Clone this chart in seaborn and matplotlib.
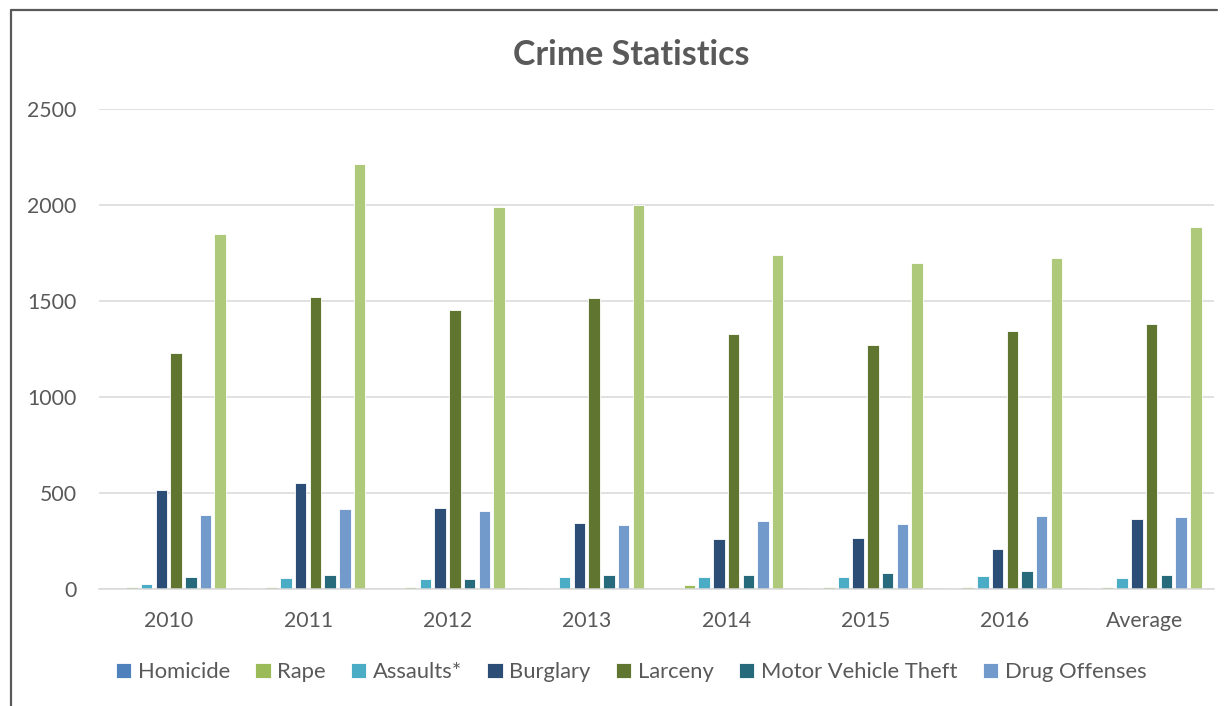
import numpy as np
import pandas as pd
import matplotlib
matplotlib.use('Agg')
import matplotlib.pyplot as plt
import seaborn as sns
from matplotlib.lines import Line2D

years = ['2010', '2011', '2012', '2013', '2014', '2015', '2016', 'Average']
series = ['Homicide', 'Rape', 'Assaults*', 'Burglary', 'Larceny',
          'Motor Vehicle Theft', 'Drug Offenses', 'Other']

homicide = [2, 3, 2, 3, 2, 3, 3, 3]
rape = [8, 10, 10, 3, 21, 8, 12, 10]
assaults = [27, 57, 50, 62, 64, 64, 68, 57]
burglary = [516, 552, 420, 345, 259, 266, 208, 365]
larceny = [1229, 1521, 1453, 1516, 1328, 1273, 1342, 1380]
motor_vehicle = [63, 73, 50, 71, 71, 83, 94, 73]
drug = [385, 417, 406, 333, 354, 339, 380, 375]
other = [1849, 2213, 1990, 2000, 1740, 1698, 1724, 1885]

colors = ['#4F81BD', '#9BBB59', '#4BACC6', '#2C4D75', '#5F7530',
          '#276A7C', '#729ACA', '#AFC97A']

values = [homicide, rape, assaults, burglary, larceny, motor_vehicle, drug, other]
rows = []
for name, vals in zip(series, values):
    for yr, v in zip(years, vals):
        rows.append({'Year': yr, 'Crime': name, 'Count': v})
df = pd.DataFrame(rows)

sns.set_style('white')
plt.rcParams['font.family'] = ['Lato', 'DejaVu Sans']

fig = plt.figure(figsize=(12.3, 7.06), dpi=100)
ax = fig.add_axes([0.0805, 0.1657, 0.9065, 0.6799])

sns.barplot(data=df, x='Year', y='Count', hue='Crime', order=years,
            hue_order=series, palette=colors, saturation=1, width=0.845, gap=0.22,
            edgecolor='white', linewidth=0.6, ax=ax, legend=True)

handles, labels = ax.get_legend_handles_labels()
ax.get_legend().remove()

ax.set_ylim(0, 2500)
ax.set_xlim(-0.5, len(years) - 0.5)
ax.set_yticks([0, 500, 1000, 1500, 2000, 2500])
ax.set_xlabel('')
ax.set_ylabel('')
ax.yaxis.grid(True, color='#D9D9D9', linewidth=1.1)
ax.set_axisbelow(True)
for s in ['top', 'right', 'left']:
    ax.spines[s].set_visible(False)
ax.spines['bottom'].set_color('#D9D9D9')
ax.spines['bottom'].set_linewidth(1.1)
ax.tick_params(axis='both', length=0, labelsize=15.3, colors='#595959')
ax.tick_params(axis='y', pad=16)
ax.tick_params(axis='x', pad=16)

fig.text(0.513, 0.922, 'Crime Statistics', ha='center', va='center',
         fontsize=24.5, fontweight='bold', color='#595959')

fig.legend(handles[:7], labels[:7], loc='center', bbox_to_anchor=(0.513, 1 - 672 / 706),
           ncol=7, frameon=False, fontsize=15.8, labelcolor='#595959',
           handlelength=0.7, handleheight=0.7, handletextpad=0.3, columnspacing=1.15)

# chart border (left and top edges visible)
fig.add_artist(Line2D([11 / 1230, 11 / 1230], [0, 1 - 10 / 706], color='#595959', linewidth=1.6))
fig.add_artist(Line2D([11 / 1230, 1217 / 1230], [1 - 10 / 706, 1 - 10 / 706], color='#595959', linewidth=1.6))

fig.savefig('out.png', dpi=100)
